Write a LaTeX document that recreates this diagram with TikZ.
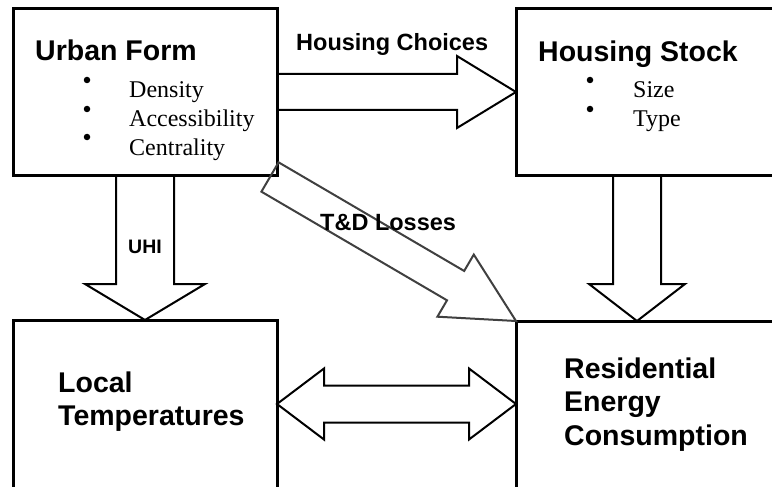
\documentclass[tikz,border=0pt]{standalone}
\usepackage{fontspec}
\setmainfont{Liberation Serif}
\newfontfamily\arialf{Liberation Sans}
\usetikzlibrary{calc}
\definecolor{arrgray}{HTML}{404040}
% #1 start, #2 tip, #3 shaft half width, #4 head half width, #5 head length, #6 style
\newcommand\myfatarr[6]{%
 \draw[#6] ($(#1)!#3pt!90:(#2)$) -- ($(#2)!#5pt!(#1)!#3pt!-90:(#1)$) -- ($(#2)!#5pt!(#1)!#4pt!-90:(#1)$) -- (#2) -- ($(#2)!#5pt!(#1)!#4pt!90:(#1)$) -- ($(#2)!#5pt!(#1)!#3pt!90:(#1)$) -- ($(#1)!#3pt!-90:(#2)$) -- cycle;}
\newcommand\mydblarr[6]{%
 \draw[#6] (#1) -- ($(#1)!#5pt!(#2)!#4pt!90:(#2)$) -- ($(#1)!#5pt!(#2)!#3pt!90:(#2)$) -- ($(#2)!#5pt!(#1)!#3pt!-90:(#1)$) -- ($(#2)!#5pt!(#1)!#4pt!-90:(#1)$) -- (#2) -- ($(#2)!#5pt!(#1)!#4pt!90:(#1)$) -- ($(#2)!#5pt!(#1)!#3pt!90:(#1)$) -- ($(#1)!#5pt!(#2)!#3pt!-90:(#2)$) -- ($(#1)!#5pt!(#2)!#4pt!-90:(#2)$) -- cycle;}
\tikzset{
 box/.style={draw, line width=3pt, rectangle, outer sep=0pt, inner sep=0pt},
 title/.style={font=\arialf\bfseries\fontsize{28.5}{33}\selectfont, inner sep=0pt, anchor=base west},
 lbl/.style={font=\arialf\bfseries\fontsize{23.5}{28}\selectfont, inner sep=0pt, anchor=base west},
 item/.style={font=\fontsize{24}{28}\selectfont, inner sep=0pt, anchor=base west},
 bul/.style={fill, circle, inner sep=0pt, minimum size=6.5pt},
 fat/.style={draw=black, line width=2pt, line join=miter},
 fatgray/.style={draw=arrgray, line width=2pt, line join=miter}
}
\begin{document}
\begin{tikzpicture}[x=1pt,y=-1pt]
\useasboundingbox (0,0) rectangle (772,487);
\fill[white] (0,0) rectangle (772,487);
\clip (0,0) rectangle (772,487);
% boxes
\node[box, minimum width=264pt, minimum height=166pt] (UF) at (145,92) {};
\node[box, minimum width=300pt, minimum height=166pt] (HS) at (666,92) {};
\node[box, minimum width=264pt, minimum height=220pt] (LT) at (145,430) {};
\node[box, minimum width=300pt, minimum height=220pt] (REC) at (666,431) {};
% texts in boxes
\node[title] (ufT) at ($(UF.north west)+(22,52)$) {Urban Form};
\node[bul] (ufb1) at ($(UF.north west)+(74,71)$) {};
\node[bul] (ufb2) at ($(UF.north west)+(74,100)$) {};
\node[bul] (ufb3) at ($(UF.north west)+(74,128)$) {};
\node[item] (uf1) at ($(UF.north west)+(116,89)$) {Density};
\node[item] (uf2) at ($(UF.north west)+(116,118)$) {Accessibility};
\node[item] (uf3) at ($(UF.north west)+(116,146)$) {Centrality};
\node[title] (hsT) at ($(HS.north west)+(22,53)$) {Housing Stock};
\node[bul] (hsb1) at ($(HS.north west)+(74,71)$) {};
\node[bul] (hsb2) at ($(HS.north west)+(74,100)$) {};
\node[item] (hs1) at ($(HS.north west)+(117,89)$) {Size};
\node[item] (hs2) at ($(HS.north west)+(117,118)$) {Type};
\node[title] (lt1) at ($(LT.north west)+(45,72)$) {Local};
\node[title] (lt2) at ($(LT.north west)+(45,105)$) {Temperatures};
\node[title] (rec1) at ($(REC.north west)+(48,57)$) {Residential};
\node[title] (rec2) at ($(REC.north west)+(48,90)$) {Energy};
\node[title] (rec3) at ($(REC.north west)+(48,124)$) {Consumption};
% connector end points
\coordinate (hsA) at ($(HS.south west)+(121,0)$);
\coordinate (recA) at ($(REC.north west)+(121,0)$);
\coordinate (ltR) at ($(LT.north east)+(0,84)$);
\coordinate (recL) at ($(REC.north west)+(0,83)$);
\coordinate (tdS) at ($(UF.south east)+(-7,2)$);
% arrows
\myfatarr{UF.east}{HS.west}{18}{36}{59}{fat}
\myfatarr{UF.south}{LT.north}{29}{60}{36}{fat}
\myfatarr{hsA}{recA}{24}{48}{37}{fat}
\mydblarr{ltR}{recL}{18.5}{35.5}{47}{fat}
\myfatarr{tdS}{REC.north west}{17}{36}{70}{fatgray}
% arrow labels
\node[lbl] (hc) at (296,51) {Housing Choices};
\node[lbl] (td) at (320,230) {T\&D Losses};
\node[lbl, font=\arialf\bfseries\fontsize{19.5}{24}\selectfont] (uhi) at (128,253) {UHI};
\end{tikzpicture}
\end{document}
